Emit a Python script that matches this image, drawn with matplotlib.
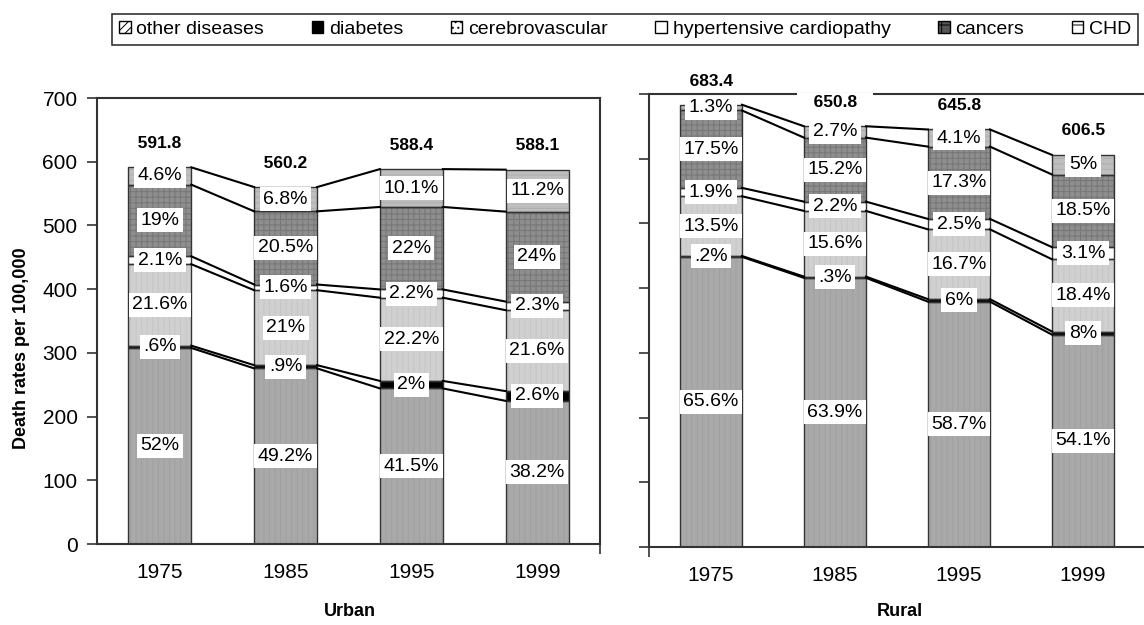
import numpy as np
import matplotlib
matplotlib.use('Agg')
import matplotlib.pyplot as plt
import matplotlib.patches as mpatches

plt.rcParams['font.family'] = ['Liberation Sans', 'DejaVu Sans']
plt.rcParams['hatch.linewidth'] = 0.7

years = ['1975', '1985', '1995', '1999']
# stacking order, bottom to top
series = ['CHD', 'diabetes', 'cerebrovascular', 'hypertensive cardiopathy', 'cancers', 'other diseases']
legend_order = ['other diseases', 'diabetes', 'cerebrovascular', 'hypertensive cardiopathy', 'cancers', 'CHD']

# urban, death rates per 100,000 and share of each cause (%)
urban_total = [591.8, 560.2, 588.4, 588.1]
urban_chd = [52, 49.2, 41.5, 38.2]
urban_diabetes = [0.6, 0.9, 2.0, 2.6]
urban_cerebro = [21.6, 21, 22.2, 21.6]
urban_hyper = [2.1, 1.6, 2.2, 2.3]
urban_cancers = [19, 20.5, 22, 24]
urban_other = [4.6, 6.8, 10.1, 11.2]

# rural
rural_total = [683.4, 650.8, 645.8, 606.5]
rural_chd = [65.6, 63.9, 58.7, 54.1]
rural_diabetes = [0.2, 0.3, 0.6, 0.8]
rural_cerebro = [13.5, 15.6, 16.7, 18.4]
rural_hyper = [1.9, 2.2, 2.5, 3.1]
rural_cancers = [17.5, 15.2, 17.3, 18.5]
rural_other = [1.3, 2.7, 4.1, 5]
# labels as printed on the chart for rural diabetes
rural_diabetes_text = ['.2%', '.3%', '6%', '8%']

styles = {
    'CHD': dict(fc='#a9a9a9', hatch='|||', hc='#a0a0a0'),
    'diabetes': dict(fc='black', hatch=None, hc='black'),
    'cerebrovascular': dict(fc='#d0d0d0', hatch='|||', hc='#c6c6c6'),
    'hypertensive cardiopathy': dict(fc='white', hatch=None, hc='white'),
    'cancers': dict(fc='#8e8e8e', hatch='+++', hc='#767676'),
    'other diseases': dict(fc='#bebebe', hatch='---', hc='#aeaeae'),
}
legend_styles = {
    'other diseases': dict(fc='white', hatch='////'),
    'diabetes': dict(fc='black', hatch=None),
    'cerebrovascular': dict(fc='white', hatch='...'),
    'hypertensive cardiopathy': dict(fc='white', hatch=None),
    'cancers': dict(fc='#555555', hatch='+'),
    'CHD': dict(fc='white', hatch='-'),
}


def fmt(v):
    s = f'{v:g}'
    if v < 1:
        s = s.lstrip('0')
    return s + '%'


def panel(ax, totals, pcts, texts):
    x = np.arange(len(years))
    bottom = np.zeros(len(years))
    tops = []
    for name, p, t in zip(series, pcts, texts):
        h = np.array(totals) * np.array(p) / 100
        st = styles[name]
        ax.bar(x, h, 0.5, bottom=bottom, color=st['fc'], hatch=st['hatch'],
               edgecolor=st['hc'], linewidth=0, zorder=2)
        ax.bar(x, h, 0.5, bottom=bottom, fill=False, edgecolor='#333333',
               linewidth=1, zorder=2.1)
        for xi, b, hi, s in zip(x, bottom, h, t):
            ax.text(xi, b + hi / 2, s, ha='center', va='center', fontsize=14,
                    bbox=dict(fc='white', ec='none', pad=2.5), zorder=5)
        bottom = bottom + h
        tops.append(bottom.copy())
    # series lines between bars
    for top in tops:
        for i in range(len(x) - 1):
            ax.plot([x[i] + 0.25, x[i + 1] - 0.25], [top[i], top[i + 1]],
                    color='black', lw=1.5, zorder=3)
    for xi, tot in zip(x, totals):
        ax.annotate(f'   {tot}   ', (xi, tot), xytext=(0, 17), textcoords='offset points',
                    ha='center', va='center', fontsize=12.5, fontweight='bold',
                    bbox=dict(fc='white', ec='none', pad=1.5), zorder=6,
                    annotation_clip=False)
    ax.set_xlim(-0.5, 3.5)
    ax.set_ylim(0, 700)
    ax.set_xticks(x)
    ax.set_xticklabels(years)
    ax.set_yticks(range(0, 701, 100))
    ax.tick_params(axis='x', length=0, pad=14, labelsize=15)
    ax.tick_params(axis='y', length=7, width=1.2, color='#333333', pad=7, labelsize=15)
    ax.tick_params(axis='x', which='minor', length=7, width=1.2, color='#333333')
    for sp in ax.spines.values():
        sp.set_color('#333333')
        sp.set_linewidth(1.5)


fig = plt.figure(figsize=(11.44, 6.25), dpi=100)

ax1 = fig.add_axes([97 / 1144, 1 - 544 / 625, 503 / 1144, 446 / 625])
urban = [urban_chd, urban_diabetes, urban_cerebro, urban_hyper, urban_cancers, urban_other]
urban_texts = [[fmt(v) for v in s] for s in urban]
panel(ax1, urban_total, urban, urban_texts)
ax1.set_xticks([3.5], minor=True)

ax2 = fig.add_axes([649 / 1144, 1 - 547 / 625, 496 / 1144, 453 / 625])
rural = [rural_chd, rural_diabetes, rural_cerebro, rural_hyper, rural_cancers, rural_other]
rural_texts = [[fmt(v) for v in s] for s in rural]
rural_texts[1] = rural_diabetes_text
panel(ax2, rural_total, rural, rural_texts)
ax2.set_yticklabels([])
ax2.spines['right'].set_visible(False)
ax2.set_xticks([-0.5], minor=True)

fig.text(22 / 1144, 0.443, 'Death rates per 100,000', rotation=90, ha='center',
         va='center', fontsize=13, fontweight='bold')
fig.text(350 / 1144, 0.021, 'Urban', ha='center', va='center', fontsize=13, fontweight='bold')
fig.text(900 / 1144, 0.021, 'Rural', ha='center', va='center', fontsize=13, fontweight='bold')

handles = [mpatches.Patch(facecolor=legend_styles[n]['fc'], hatch=legend_styles[n]['hatch'],
                          edgecolor='black', linewidth=1) for n in legend_order]
leg = fig.legend(handles, legend_order, loc='center', bbox_to_anchor=(0.098, 0.925, 0.897, 0.056),
                 mode='expand', ncol=6, fontsize=14, handlelength=0.6, handleheight=0.6,
                 handletextpad=0.3, fancybox=False, borderaxespad=0, borderpad=0.35)
leg.get_frame().set_edgecolor('black')
leg.get_frame().set_linewidth(1.2)

fig.savefig('out.png', dpi=100)
